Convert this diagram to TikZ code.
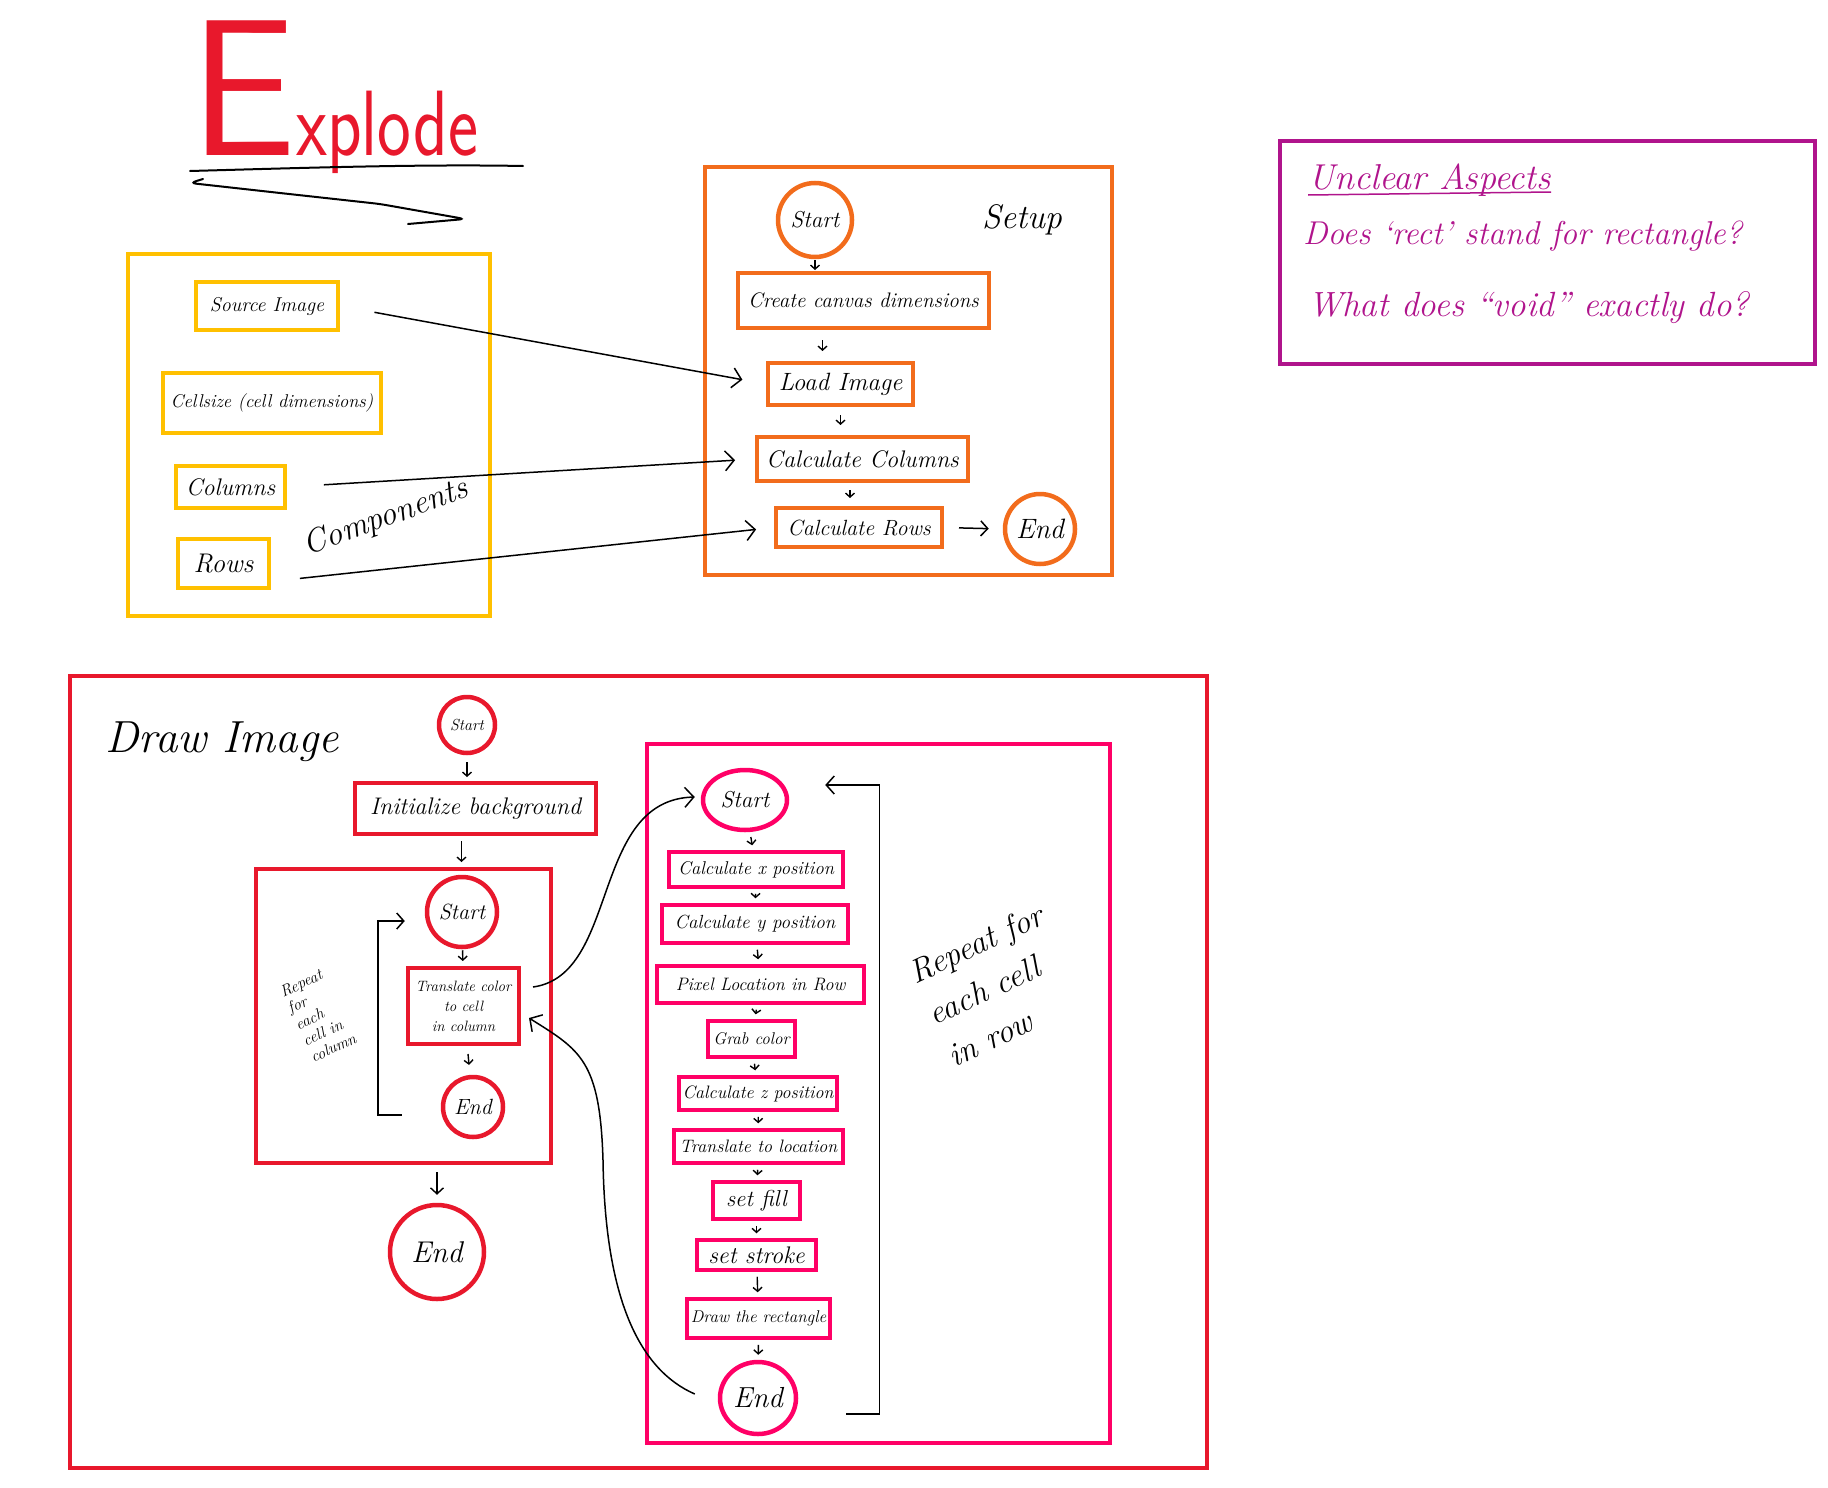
\documentclass[tikz,border=0pt]{standalone}
\usetikzlibrary{arrows.meta,shapes.geometric}
\definecolor{compyellow}{RGB}{255,192,0}
\definecolor{setuporange}{RGB}{242,108,28}
\definecolor{unclearpurple}{RGB}{176,20,140}
\definecolor{drawred}{RGB}{232,24,44}
\definecolor{rowpink}{RGB}{255,0,102}
\newcommand{\fsz}[1]{\fontsize{#1}{#1}\selectfont\itshape}
\tikzset{
    flow/.style={-{Straight Barb[length=4pt,width=9pt]}, line width=1.4pt, shorten <=5pt, shorten >=5pt},
    bigflow/.style={-{Straight Barb[length=9pt,width=20pt]}, line width=1.5pt},
    cbox/.style={draw=compyellow, line width=4pt, inner sep=0pt},
    sbox/.style={draw=setuporange, line width=4pt, inner sep=0pt},
    scirc/.style={draw=setuporange, circle, line width=4.5pt, inner sep=0pt},
    dbox/.style={draw=drawred, line width=4pt, inner sep=0pt},
    dcirc/.style={draw=drawred, circle, line width=4.5pt, inner sep=0pt},
    rbox/.style={draw=rowpink, line width=3.5pt, inner sep=0pt},
    rcirc/.style={draw=rowpink, ellipse, line width=4.5pt, inner sep=0pt}
}
\begin{document}
\begin{tikzpicture}[x=1pt,y=-1pt]
        \useasboundingbox (0,0) rectangle (1828,1488);

        \node[text=drawred, font=\sffamily, anchor=base west, inner sep=0pt] (title) at (190,155)
            {\scalebox{1.6}[1.65]{\fontsize{118}{118}\selectfont E}\scalebox{1.12}[1.45]{\fontsize{64}{64}\selectfont xplode}};
        \draw[line width=2pt, line cap=round] (190,171) .. controls (300,168) and (420,164) .. (523,166);
        \draw[line width=2pt, line cap=round, rounded corners=6pt] (203,179) -- (190,183) -- (280,193) -- (380,204) -- (465,219) -- (408,224);

        \node[cbox, minimum width=362pt, minimum height=362pt] (comp) at (309,435) {};
        \node[cbox, minimum width=142pt, minimum height=48pt, font=\fsz{20}] (src) at (267,306) {Source Image};
        \node[cbox, minimum width=218pt, minimum height=60pt, font=\fsz{18.5}] (cellsz) at (272,403) {Cellsize (cell dimensions)};
        \node[cbox, minimum width=109pt, minimum height=42pt, font=\fsz{24}] (cols) at (230.5,487) {Columns};
        \node[cbox, minimum width=91pt, minimum height=49pt, font=\fsz{27}] (rows) at (223.5,563.5) {Rows};
        \node[font=\fsz{33}, rotate=20] (comptitle) at (386,518) {Components};

        \node[sbox, minimum width=407pt, minimum height=408pt] (setup) at (908.5,371) {};
        \node[scirc, minimum size=74pt, font=\fsz{23}] (sstart) at (815,220) {Start};
        \node[font=\fsz{34}] (setuptitle) at (1022,220) {Setup};
        \node[sbox, minimum width=251pt, minimum height=55pt, font=\fsz{21}] (canvas) at (863.5,300.5) {Create canvas dimensions};
        \node[sbox, minimum width=145pt, minimum height=42pt, font=\fsz{25}] (load) at (840.5,384) {Load Image};
        \node[sbox, minimum width=211pt, minimum height=44pt, font=\fsz{24}] (calccol) at (862.5,459) {Calculate Columns};
        \node[sbox, minimum width=166pt, minimum height=39pt, font=\fsz{22}] (calcrows) at (859,527.5) {Calculate Rows};
        \node[scirc, minimum size=70pt, font=\fsz{28}] (send) at (1040,529) {End};

        \draw[bigflow, shorten <=35pt, shorten >=24pt] (src.east) -- (load.west);
        \draw[bigflow, shorten <=37pt, shorten >=20pt] (cols.east) -- (calccol.west);
        \draw[bigflow, shorten <=29pt, shorten >=18pt] ([yshift=-18pt]rows.east) -- (calcrows.west);

        \draw[flow, shorten <=1pt, shorten >=1pt] (sstart) -- (sstart |- canvas.north);
        \draw[flow, shorten <=10pt, shorten >=10pt] ([xshift=-18pt]load.north |- canvas.south) -- ([xshift=-18pt]load.north);
        \draw[flow, shorten <=8pt, shorten >=10pt] (load.south) -- (load.south |- calccol.north);
        \draw[flow, shorten <=7pt, shorten >=8pt] ([xshift=-9pt]calcrows.north |- calccol.south) -- ([xshift=-9pt]calcrows.north);
        \draw[bigflow, -{Straight Barb[length=7pt,width=15pt]}, shorten <=15pt, shorten >=14pt] (calcrows.east) -- (send.west);

        \node[draw=unclearpurple, line width=4pt, minimum width=535pt, minimum height=223pt] (unclear) at (1547.5,252.5) {};
        \node[text=unclearpurple, font=\fsz{36}, anchor=base west, inner sep=0pt] (uhead) at (1308,189) {Unclear Aspects};
        \draw[unclearpurple, line width=1.5pt] ([yshift=-6pt]uhead.base west) -- ([yshift=-3pt]uhead.base east);
        \node[text=unclearpurple, font=\fsz{33}, anchor=base west, inner sep=0pt] (uq1) at (1303,244) {Does `rect' stand for rectangle?};
        \node[text=unclearpurple, font=\fsz{35}, anchor=base west, inner sep=0pt] (uq2) at (1308,316) {What does ``void'' exactly do?};

        \node[dbox, line width=3.5pt, minimum width=1137pt, minimum height=792pt] (drawimg) at (638.5,1072) {};
        \node[font=\fsz{45}] (drawtitle) at (222,742) {Draw Image};
        \node[dcirc, minimum size=56pt, font=\fsz{16}] (dstart) at (467,725) {Start};
        \node[dbox, minimum width=241pt, minimum height=51pt, font=\fsz{24}] (init) at (475.5,808.5) {Initialize background};
        \node[dbox, minimum width=295pt, minimum height=294pt] (inner) at (403.5,1016) {};
        \node[dcirc, minimum size=70pt, font=\fsz{22}] (istart) at (462,912) {Start};
        \node[dbox, minimum width=111pt, minimum height=76pt, align=center, font=\fontsize{15}{20}\selectfont\itshape] (transl) at (463.5,1006) {Translate color\\to cell\\in column};
        \node[dcirc, minimum size=60pt, font=\fsz{22}] (iend) at (473,1107) {End};
        \node[font=\fontsize{16}{18}\selectfont\itshape, rotate=25, align=left] (colrep) at (318,1015) {Repeat\\for\\each\\cell in\\column};
        \node[dcirc, minimum size=94pt, font=\fsz{30}] (bigend) at (437,1252) {End};

        \draw[flow, shorten <=7pt, shorten >=4pt] (dstart) -- (dstart |- init.north);
        \draw[flow] ([xshift=-14pt]init.south) -- ([xshift=-14pt]init.south |- inner.north);
        \draw[flow, shorten <=1pt, shorten >=5pt] (istart) -- (transl);
        \draw[flow, shorten <=8pt, shorten >=10pt] (transl) -- (iend);
        \draw[flow, -{Straight Barb[length=6pt,width=13pt]}, shorten <=7pt, shorten >=8pt] (bigend.north |- inner.south) -- (bigend);
        \draw[bigflow, -{Straight Barb[length=7pt,width=16pt]}] ([shift={(-39pt,-8pt)}]iend.west) -| ([shift={(-47pt,-9pt)}]istart.west) -- ([shift={(-20pt,-9pt)}]istart.west);

        \node[rbox, minimum width=463pt, minimum height=699pt] (rowloop) at (878.5,1093.5) {};
        \node[rcirc, minimum width=84pt, minimum height=60pt, font=\fsz{23}] (pstart) at (745,800) {Start};
        \node[rbox, minimum width=174pt, minimum height=35pt, font=\fsz{18.5}] (calcx) at (756,869.5) {Calculate x position};
        \node[rbox, minimum width=186pt, minimum height=38pt, font=\fsz{19}] (calcy) at (755,924) {Calculate y position};
        \node[rbox, minimum width=207pt, minimum height=37pt, font=\fsz{18}] (pixloc) at (760.5,984.5) {Pixel Location in Row};
        \node[rbox, minimum width=87pt, minimum height=36pt, font=\fsz{17}] (grab) at (751.5,1039) {Grab color};
        \node[rbox, minimum width=158pt, minimum height=33pt, font=\fsz{18}] (calcz) at (758,1093.5) {Calculate z position};
        \node[rbox, minimum width=169pt, minimum height=33pt, font=\fsz{18}] (transloc) at (758.5,1146.5) {Translate to location};
        \node[rbox, minimum width=87pt, minimum height=37pt, font=\fsz{23}] (setfill) at (756.5,1200.5) {set fill};
        \node[rbox, minimum width=119pt, minimum height=30pt, font=\fsz{24}] (setstroke) at (756.5,1255) {set stroke};
        \node[rbox, minimum width=143pt, minimum height=39pt, font=\fsz{17}] (drawrect) at (758.5,1318.5) {Draw the rectangle};
        \node[rcirc, minimum width=76pt, minimum height=72pt, font=\fsz{29}] (pend) at (758,1398) {End};
        \node[font=\fontsize{33}{46}\selectfont\itshape, rotate=25, align=left] (rowrep) at (995,985) {Repeat for\\each cell\\in row};

        \draw[flow] (pstart) -- (calcx);
        \draw[flow] (calcx) -- (calcy);
        \draw[flow] (calcy) -- (pixloc);
        \draw[flow] (pixloc) -- (grab);
        \draw[flow] (grab) -- (calcz);
        \draw[flow] (calcz) -- (transloc);
        \draw[flow] (transloc) -- (setfill);
        \draw[flow] (setfill) -- (setstroke);
        \draw[flow] (setstroke) -- (drawrect);
        \draw[flow] (drawrect) -- (pend);
        \draw[bigflow, -{Straight Barb[length=8pt,width=18pt]}] ([shift={(48pt,-16pt)}]pend.east) -| ([shift={(90pt,15pt)}]pstart.east) -- ([shift={(36pt,15pt)}]pstart.east);

        \draw[bigflow] ([shift={(12pt,19pt)}]transl.east) .. controls (620,975) and (590,800) .. ([shift={(-6pt,3pt)}]pstart.west);
        \draw[bigflow] ([shift={(-23pt,4pt)}]pend.west) .. controls (640,1370) and (605,1300) .. (603,1160) .. controls (600,1060) and (580,1050) .. ([shift={(8pt,-12pt)}]transl.east);
    \end{tikzpicture}
\end{document}
